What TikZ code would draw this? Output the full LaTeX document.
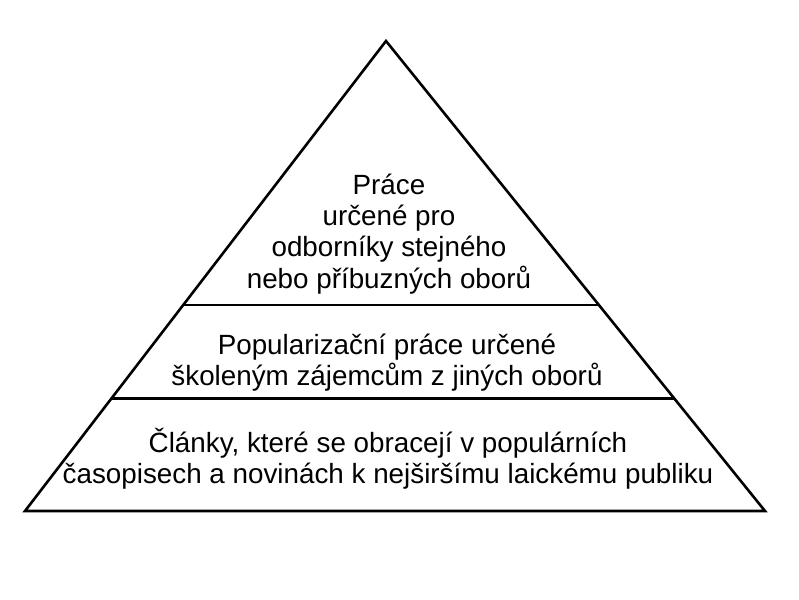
\documentclass[tikz,border=0pt]{standalone}
\usepackage{fontspec}
\setmainfont{Liberation Sans}
\usepackage{tikz}
\usetikzlibrary{calc}
\tikzstyle{layer} = [align=center, font=\fontsize{27.8}{31.2}\selectfont, inner sep=0pt]
\tikzstyle{edge} = [line width=2.6pt]

\begin{document}
\begin{tikzpicture}[x=1pt, y=-1pt]
                \useasboundingbox (0,0) rectangle (799,599);
                \coordinate (apex) at (386,41);
                \coordinate (baseleft) at (25,511);
                \coordinate (baseright) at (765,511);
                \coordinate (cutoneleft) at ($(baseleft)!0.438!(apex)$);
                \coordinate (cutoneright) at ($(baseright)!0.438!(apex)$);
                \coordinate (cuttwoleft) at ($(baseleft)!0.24!(apex)$);
                \coordinate (cuttworight) at ($(baseright)!0.24!(apex)$);

                \node (experts) [layer] at (389,234) {Práce\\určené pro\\odborníky stejného\\nebo příbuzných oborů};
                \node (popular) [layer] at (387,363) {Popularizační práce určené\\školeným zájemcům z jiných oborů};
                \node (public) [layer] at (388,459) {Články, které se obracejí v populárních\\časopisech a novinách k nejširšímu laickému publiku};

                \draw [edge] (apex) -- (baseleft) -- (baseright) -- cycle;
                \draw [edge] (cutoneleft) -- (cutoneright);
                \draw [edge] (cuttwoleft) -- (cuttworight);
\end{tikzpicture}
\end{document}
